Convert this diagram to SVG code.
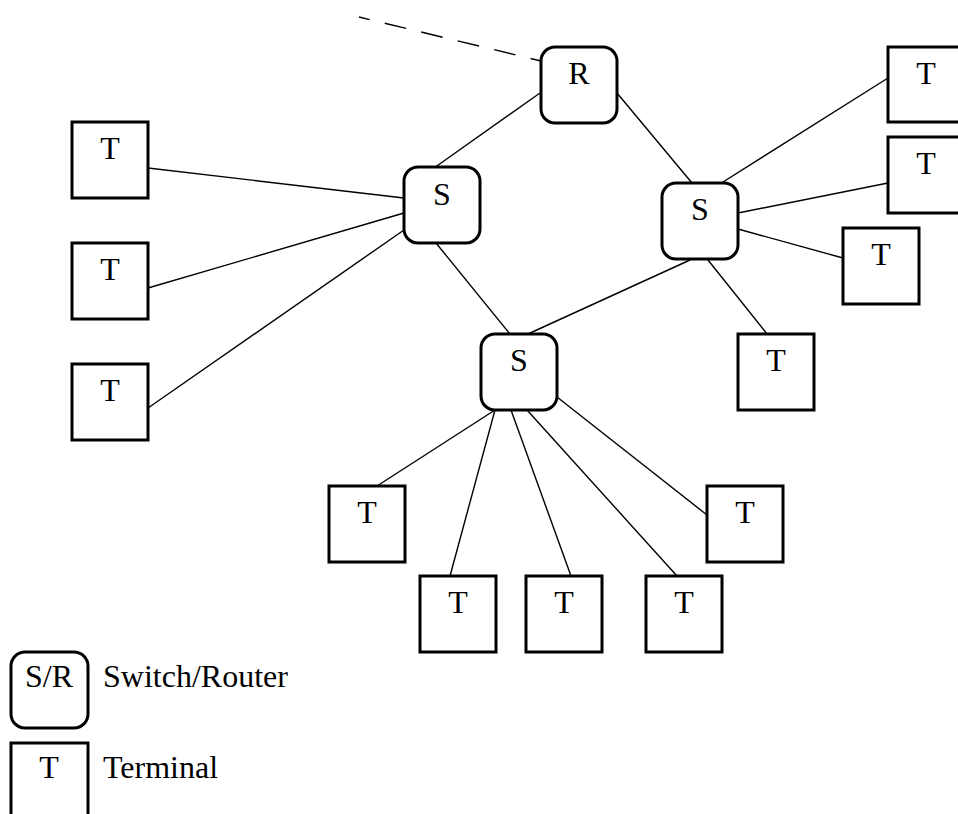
<svg xmlns="http://www.w3.org/2000/svg" width="958" height="814" viewBox="0 0 958 814">
  <style>
    .sw { fill: #fff; stroke: #000; stroke-width: 3; }
    .tm { fill: #fff; stroke: #000; stroke-width: 3; }
    .lbl { font-family: "Liberation Serif", "Times New Roman", serif; font-size: 32px; fill: #000; text-anchor: middle; }
    .cap { font-family: "Liberation Serif", "Times New Roman", serif; font-size: 32px; fill: #000; }
    .wire { stroke: #000; stroke-width: 1.4; fill: none; }
    .uplink { stroke: #000; stroke-width: 1.4; fill: none; stroke-dasharray: 22 15.5; stroke-dashoffset: 11; }
  </style>
  <rect width="958" height="814" fill="#fff"/>

  <!-- links -->
  <g id="connectors">
    <line class="uplink" x1="359" y1="17" x2="541" y2="61"/>
    <line class="wire" x1="540" y1="93" x2="434" y2="168"/>
    <line class="wire" x1="617" y1="93" x2="692" y2="183"/>
    <line class="wire" x1="436" y1="243" x2="510" y2="334"/>
    <line class="wire" x1="528" y1="334" x2="690" y2="260"/>
    <line class="wire" x1="723" y1="182" x2="888" y2="78"/>
    <line class="wire" x1="738" y1="213" x2="888" y2="183"/>
    <line class="wire" x1="738" y1="229" x2="843" y2="258"/>
    <line class="wire" x1="708" y1="260" x2="767" y2="334"/>
    <line class="wire" x1="148" y1="168" x2="404" y2="198"/>
    <line class="wire" x1="148" y1="288" x2="404" y2="213"/>
    <line class="wire" x1="148" y1="408" x2="404" y2="230"/>
    <line class="wire" x1="495" y1="410" x2="377" y2="486"/>
    <line class="wire" x1="495" y1="410" x2="450" y2="576"/>
    <line class="wire" x1="511" y1="410" x2="571" y2="576"/>
    <line class="wire" x1="527" y1="410" x2="677" y2="576"/>
    <line class="wire" x1="557" y1="397" x2="707" y2="515"/>
  </g>

  <!-- switches / router -->
  <g id="router-R"><rect class="sw" x="541" y="47" width="76" height="76" rx="14"/><text class="lbl" x="579" y="84">R</text></g>
  <g id="switch-1"><rect class="sw" x="404" y="167" width="76" height="76" rx="14"/><text class="lbl" x="442" y="205">S</text></g>
  <g id="switch-2"><rect class="sw" x="662" y="183" width="76" height="76" rx="14"/><text class="lbl" x="700" y="220">S</text></g>
  <g id="switch-3"><rect class="sw" x="481" y="334" width="76" height="76" rx="14"/><text class="lbl" x="519" y="371">S</text></g>

  <!-- terminals -->
  <g id="term-l1"><rect class="tm" x="72" y="122" width="76" height="76"/><text class="lbl" x="110" y="159">T</text></g>
  <g id="term-l2"><rect class="tm" x="72" y="243" width="76" height="76"/><text class="lbl" x="110" y="280">T</text></g>
  <g id="term-l3"><rect class="tm" x="72" y="364" width="76" height="76"/><text class="lbl" x="110" y="401">T</text></g>
  <g id="term-r1"><rect class="tm" x="888" y="47" width="76" height="75"/><text class="lbl" x="926" y="84">T</text></g>
  <g id="term-r2"><rect class="tm" x="888" y="137" width="76" height="76"/><text class="lbl" x="926" y="174">T</text></g>
  <g id="term-r3"><rect class="tm" x="843" y="228" width="76" height="76"/><text class="lbl" x="881" y="265">T</text></g>
  <g id="term-r4"><rect class="tm" x="738" y="334" width="76" height="76"/><text class="lbl" x="776" y="371">T</text></g>
  <g id="term-b1"><rect class="tm" x="329" y="486" width="76" height="76"/><text class="lbl" x="367" y="523">T</text></g>
  <g id="term-b2"><rect class="tm" x="420" y="576" width="76" height="76"/><text class="lbl" x="458" y="613">T</text></g>
  <g id="term-b3"><rect class="tm" x="526" y="576" width="76" height="76"/><text class="lbl" x="564" y="613">T</text></g>
  <g id="term-b4"><rect class="tm" x="646" y="576" width="76" height="76"/><text class="lbl" x="684" y="613">T</text></g>
  <g id="term-b5"><rect class="tm" x="707" y="486" width="76" height="76"/><text class="lbl" x="745" y="523">T</text></g>

  <!-- legend -->
  <g id="legend-switch"><rect class="sw" x="11" y="652" width="77" height="76" rx="14"/><text class="lbl" x="49" y="687">S/R</text><text class="cap" x="103" y="687">Switch/Router</text></g>
  <g id="legend-terminal"><rect class="tm" x="11" y="743" width="77" height="76"/><text class="lbl" x="49" y="778">T</text><text class="cap" x="103" y="778">Terminal</text></g>
</svg>
